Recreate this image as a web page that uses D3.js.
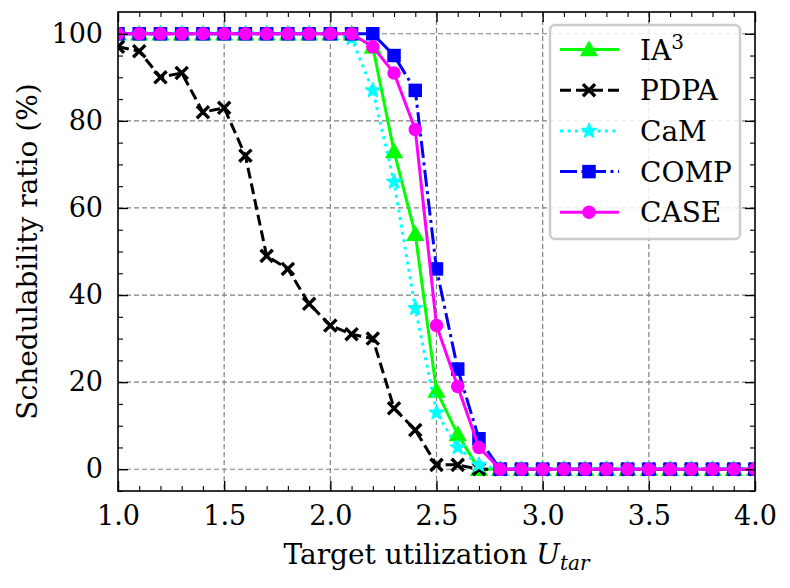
<!DOCTYPE html>
<html>
<head>
<meta charset="utf-8">
<script src="https://cdn.jsdelivr.net/npm/d3@7"></script>
<style>
  body { margin: 0; background: #fff; }
  text { font-family: "DejaVu Serif", serif; }
</style>
</head>
<body>
<script>
const w = 790;
const h = 588;

// x values 1.0 .. 4.0 step 0.1
const utilization = [1.0,1.1,1.2,1.3,1.4,1.5,1.6,1.7,1.8,1.9,2.0,2.1,2.2,2.3,2.4,2.5,2.6,2.7,2.8,2.9,3.0,3.1,3.2,3.3,3.4,3.5,3.6,3.7,3.8,3.9,4.0];

const ia3  = [100,100,100,100,100,100,100,100,100,100,100,100,97,73,54,18,8,0,0,0,0,0,0,0,0,0,0,0,0,0,0];
const pdpa = [97,96,90,91,82,83,72,49,46,38,33,31,30,14,9,1,1,0,0,0,0,0,0,0,0,0,0,0,0,0,0];
const cam  = [100,100,100,100,100,100,100,100,100,100,100,99,87,66,37,13,5,1,0,0,0,0,0,0,0,0,0,0,0,0,0];
const comp = [100,100,100,100,100,100,100,100,100,100,100,100,100,95,87,46,23,7,0,0,0,0,0,0,0,0,0,0,0,0,0];
const caseV = [100,100,100,100,100,100,100,100,100,100,100,100,97,91,78,33,19,5,0,0,0,0,0,0,0,0,0,0,0,0,0];

const xTicks = [1.0,1.5,2.0,2.5,3.0,3.5,4.0];
const yTicks = [0,20,40,60,80,100];

const series = [
  {name: 'IA3',  values: ia3,  color: '#00ff00', dash: null,           marker: 'triangle'},
  {name: 'PDPA', values: pdpa, color: '#000000', dash: '11,5',         marker: 'x'},
  {name: 'CaM',  values: cam,  color: '#00ffff', dash: '3,4.5',        marker: 'star'},
  {name: 'COMP', values: comp, color: '#0000ff', dash: '17,4.5,3,4.5', marker: 'square'},
  {name: 'CASE', values: caseV, color: '#ff00ff', dash: null,          marker: 'circle'}
];

const m = {left: 118, right: 35, top: 12, bottom: 97};
const iw = w - m.left - m.right;
const ih = h - m.top - m.bottom;

const svg = d3.select('body').append('svg')
  .attr('width', w)
  .attr('height', h);

const x = d3.scaleLinear().domain([1.0, 4.0]).range([0, iw]);
const y = d3.scaleLinear().domain([-5, 105]).range([ih, 0]);

const g = svg.append('g').attr('transform', `translate(${m.left},${m.top})`);

// grid
g.append('g').selectAll('line').data(xTicks.slice(1, -1)).enter().append('line')
  .attr('x1', d => x(d)).attr('x2', d => x(d))
  .attr('y1', 0).attr('y2', ih)
  .attr('stroke', '#808080').attr('stroke-width', 1.2).attr('stroke-dasharray', '5,3');
g.append('g').selectAll('line').data(yTicks).enter().append('line')
  .attr('x1', 0).attr('x2', iw)
  .attr('y1', d => y(d)).attr('y2', d => y(d))
  .attr('stroke', '#808080').attr('stroke-width', 1.2).attr('stroke-dasharray', '5,3');

g.append('defs').append('clipPath').attr('id', 'clip')
  .append('rect').attr('width', iw).attr('height', ih);

const line = d3.line()
  .x((d, i) => x(utilization[i]))
  .y(d => y(d));

const plot = g.append('g').attr('clip-path', 'url(#clip)');

function drawMarker(sel, s, size) {
  if (s.marker === 'x') {
    const r = size * 0.45;
    sel.append('path')
      .attr('d', `M${-r},${-r}L${r},${r}M${-r},${r}L${r},${-r}`)
      .attr('stroke', s.color).attr('stroke-width', 3.4).attr('fill', 'none');
  } else if (s.marker === 'triangle') {
    sel.append('path').attr('d', d3.symbol(d3.symbolTriangle, size * size * 0.8)())
      .attr('transform', 'translate(0,1.5)')
      .attr('fill', s.color);
  } else if (s.marker === 'star') {
    sel.append('path').attr('d', d3.symbol(d3.symbolStar, size * size * 0.32)())
      .attr('fill', s.color).attr('stroke', s.color).attr('stroke-width', 2).attr('stroke-linejoin', 'round');
  } else if (s.marker === 'square') {
    sel.append('rect').attr('x', -size / 2).attr('y', -size / 2)
      .attr('width', size).attr('height', size).attr('fill', s.color);
  } else {
    sel.append('circle').attr('r', size / 2).attr('fill', s.color);
  }
}

series.forEach(s => {
  plot.append('path')
    .datum(s.values)
    .attr('d', line)
    .attr('fill', 'none')
    .attr('stroke', s.color)
    .attr('stroke-width', 3)
    .attr('stroke-dasharray', s.dash);
  plot.append('g').selectAll('g').data(s.values).enter().append('g')
    .attr('transform', (d, i) => `translate(${x(utilization[i])},${y(d)})`)
    .each(function () { drawMarker(d3.select(this), s, 13.5); });
});

// frame
g.append('rect').attr('width', iw).attr('height', ih)
  .attr('fill', 'none').attr('stroke', '#000').attr('stroke-width', 1.6);

// ticks (inward, on all sides)
const xMinor = d3.range(11, 40).map(v => v / 10).filter(v => !xTicks.some(t => Math.abs(t - v) < 1e-6));
const yMinor = d3.range(-5, 105, 5).filter(v => !yTicks.includes(v));

const axB = d3.axisBottom(x).tickValues(xTicks).tickFormat(d3.format('.1f')).tickSizeInner(-10).tickSizeOuter(0).tickPadding(15);
const axT = d3.axisTop(x).tickValues(xTicks).tickFormat('').tickSizeInner(-10).tickSizeOuter(0);
const axL = d3.axisLeft(y).tickValues(yTicks).tickSizeInner(-10).tickSizeOuter(0).tickPadding(15);
const axR = d3.axisRight(y).tickValues(yTicks).tickFormat('').tickSizeInner(-10).tickSizeOuter(0);

const axes = [
  [axB, `translate(0,${ih})`], [axT, 'translate(0,0)'],
  [axL, 'translate(0,0)'], [axR, `translate(${iw},0)`]
];
axes.forEach(([ax, tr]) => {
  const a = g.append('g').attr('transform', tr).call(ax);
  a.select('.domain').remove();
  a.selectAll('line').attr('stroke-width', 1.4);
  a.selectAll('text').style('font-family', '"DejaVu Serif", serif').style('font-size', '27px').attr('fill', '#000');
});

const minorB = d3.axisBottom(x).tickValues(xMinor).tickFormat('').tickSizeInner(-5).tickSizeOuter(0);
const minorT = d3.axisTop(x).tickValues(xMinor).tickFormat('').tickSizeInner(-5).tickSizeOuter(0);
const minorL = d3.axisLeft(y).tickValues(yMinor).tickFormat('').tickSizeInner(-5).tickSizeOuter(0);
const minorR = d3.axisRight(y).tickValues(yMinor).tickFormat('').tickSizeInner(-5).tickSizeOuter(0);
[[minorB, `translate(0,${ih})`], [minorT, 'translate(0,0)'], [minorL, 'translate(0,0)'], [minorR, `translate(${iw},0)`]]
  .forEach(([ax, tr]) => {
    const a = g.append('g').attr('transform', tr).call(ax);
    a.select('.domain').remove();
    a.selectAll('line').attr('stroke-width', 1.1);
  });

// axis labels
svg.append('text')
  .attr('transform', `translate(37,${m.top + ih / 2}) rotate(-90)`)
  .attr('text-anchor', 'middle')
  .style('font-size', '28px')
  .text('Schedulability ratio (%)');

const xl = svg.append('text')
  .attr('x', m.left + iw / 2)
  .attr('y', 564)
  .attr('text-anchor', 'middle')
  .style('font-size', '28px');
xl.append('tspan').text('Target utilization ');
xl.append('tspan').style('font-style', 'italic').text('U');
xl.append('tspan').style('font-style', 'italic').style('font-size', '20px').attr('dy', 6).text('tar');

// legend
const lg = svg.append('g').attr('transform', 'translate(550,25)');
lg.append('rect')
  .attr('width', 190).attr('height', 214).attr('rx', 5)
  .attr('fill', '#fff').attr('fill-opacity', 0.85)
  .attr('stroke', '#cccccc').attr('stroke-width', 2.5);

series.forEach((s, i) => {
  const row = lg.append('g').attr('transform', `translate(0,${24.5 + i * 40.7})`);
  row.append('line').attr('x1', 10).attr('x2', 69)
    .attr('stroke', s.color).attr('stroke-width', 3).attr('stroke-dasharray', s.dash);
  const mk = row.append('g').attr('transform', 'translate(39,0)');
  drawMarker(mk, s, 13.5);
  const t = row.append('text').attr('x', 90).attr('y', 10).style('font-size', '28px');
  if (s.name === 'IA3') {
    t.append('tspan').text('IA');
    t.append('tspan').attr('dy', -11).style('font-size', '20px').text('3');
  } else {
    t.text(s.name);
  }
});
</script>
</body>
</html>
